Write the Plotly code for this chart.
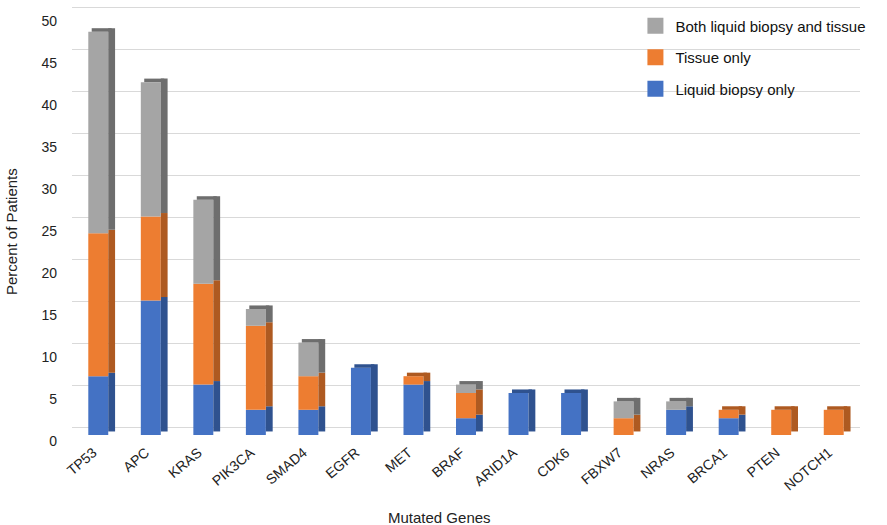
import numpy as np
import plotly.graph_objects as go

genes = ["TP53", "APC", "KRAS", "PIK3CA", "SMAD4", "EGFR", "MET", "BRAF",
         "ARID1A", "CDK6", "FBXW7", "NRAS", "BRCA1", "PTEN", "NOTCH1"]
liquid_only = [7, 16, 6, 3, 3, 8, 6, 2, 5, 5, 0, 3, 2, 0, 0]
tissue_only = [17, 10, 12, 10, 4, 0, 1, 3, 0, 0, 2, 0, 1, 3, 3]
both = [24, 16, 10, 2, 4, 0, 0, 1, 0, 0, 2, 1, 0, 0, 0]
y_ticks = list(range(0, 51, 5))

series = [
    ("Liquid biopsy only", liquid_only, "#4472C4", "#2F528F"),
    ("Tissue only", tissue_only, "#ED7D31", "#AE5A21"),
    ("Both liquid biopsy and tissue", both, "#A5A5A5", "#6E6E6E"),
]

FRONT_W = 0.38
SIDE_W = 0.13
DEPTH = 0.42          # half of apparent depth (data units)
Y_TOP = 51.3          # front axis top
WALL = 2 * DEPTH      # back-wall shift for gridlines

fig = go.Figure()
# invisible trace so the gridline axis is drawn
fig.add_trace(go.Scatter(x=[genes[0]], y=[0], yaxis="y2", mode="markers",
                         marker=dict(opacity=0), showlegend=False, hoverinfo="skip"))
cum = np.zeros(len(genes))
top_color = ["#000000"] * len(genes)
for name, vals, col, dark in series:
    v = np.array(vals, dtype=float)
    fig.add_trace(go.Bar(x=genes, y=v, base=cum.copy(), name=name, showlegend=False,
                         marker=dict(color=col, line=dict(width=0)),
                         width=FRONT_W, offset=-FRONT_W / 2))
    fig.add_trace(go.Bar(x=genes, y=v, base=cum + DEPTH, showlegend=False,
                         marker=dict(color=dark, line=dict(width=0)),
                         width=SIDE_W, offset=FRONT_W / 2, hoverinfo="skip"))
    for i, val in enumerate(vals):
        if val > 0:
            top_color[i] = dark
    cum = cum + v

fig.add_trace(go.Bar(x=genes, y=[DEPTH] * len(genes), base=cum, showlegend=False,
                     marker=dict(color=top_color, line=dict(width=0)),
                     width=FRONT_W, offset=-FRONT_W / 2 + SIDE_W / 2, hoverinfo="skip"))

# legend entries (top of stack first) with larger square swatches
for name, vals, col, dark in reversed(series):
    fig.add_trace(go.Scatter(x=[None], y=[None], mode="markers", name=name,
                             legendgroup=name,
                             marker=dict(symbol="square", size=18, color=col)))

fig.update_layout(
    width=887, height=525,
    barmode="overlay",
    plot_bgcolor="white", paper_bgcolor="white",
    margin=dict(l=72, r=27, t=4, b=90),
    font=dict(family="Liberation Sans, Arial, sans-serif", size=14, color="#222"),
    legend=dict(x=0.715, y=0.987, xanchor="left", yanchor="top",
                traceorder="grouped", itemsizing="trace",
                font=dict(size=15, color="#111"), bgcolor="rgba(255,255,255,0)",
                itemwidth=30, tracegroupgap=9),
    xaxis=dict(range=[-0.5, len(genes) - 0.5], tickangle=-40, showgrid=False,
               showline=False, ticks="", automargin=False, ticklabelstandoff=6,
               ticklabelshift=-5, tickfont=dict(size=14)),
    yaxis=dict(range=[0, Y_TOP], tickvals=y_ticks, showgrid=False, zeroline=False,
               showline=False, ticks="", automargin=False, ticklabelstandoff=14,
               ticklabelshift=6, tickfont=dict(size=14)),
    yaxis2=dict(range=[-WALL, Y_TOP - WALL], overlaying="y", tickvals=y_ticks,
                showgrid=True, gridcolor="#D9D9D9", zeroline=False,
                showticklabels=False, ticks="", showline=False),
    annotations=[
        dict(text="Mutated Genes", xref="paper", yref="paper", x=(439 - 72) / 788,
             y=-(517 - 435) / 431, showarrow=False, font=dict(size=15),
             xanchor="center", yanchor="middle"),
        dict(text="Percent of Patients", xref="paper", yref="paper",
             x=-(72 - 11) / 788, y=(435 - 232) / 431, textangle=-90, showarrow=False,
             font=dict(size=15), xanchor="center", yanchor="middle"),
    ],
)

fig.write_html("out.html", config={"displayModeBar": False},
               post_script="document.body.style.margin='0';")
